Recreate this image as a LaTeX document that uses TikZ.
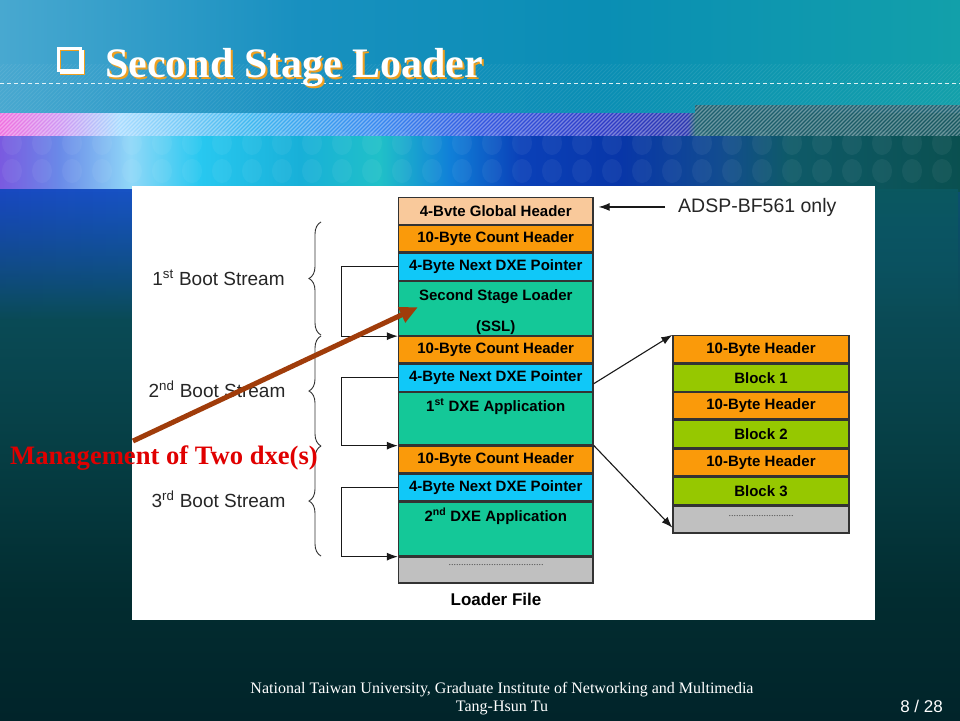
\documentclass[tikz,border=0pt]{standalone}
\usepackage{fontspec}
\setmainfont{Liberation Serif}
\setsansfont{Liberation Sans}
\usetikzlibrary{arrows.meta,decorations.pathreplacing,fadings,calc}

\definecolor{peach}{HTML}{F9C99B}
\definecolor{org}{HTML}{FA9A0A}
\definecolor{cyn}{HTML}{10C8F8}
\definecolor{grn}{HTML}{14C898}
\definecolor{lime}{HTML}{96C800}
\definecolor{gry}{HTML}{C0C0C0}
\definecolor{brd}{HTML}{333333}
\definecolor{brn}{HTML}{A03C0A}
\definecolor{mred}{HTML}{E00000}
\definecolor{ttlorange}{HTML}{F0A020}

% top band
\definecolor{tbA}{HTML}{48A8D0}
\definecolor{tbB}{HTML}{1890C0}
\definecolor{tbC}{HTML}{0A8EB4}
\definecolor{tbD}{HTML}{12A0AA}
\pgfdeclarehorizontalshading{topband}{100bp}{color(0bp)=(tbA); color(25bp)=(tbA); color(40.6bp)=(tbB); color(56.25bp)=(tbC); color(75bp)=(tbD); color(100bp)=(tbD)}
% stripe band
\definecolor{sbA}{HTML}{F070E0}
\definecolor{sbB}{HTML}{D098F4}
\definecolor{sbC}{HTML}{A8DCFF}
\definecolor{sbD}{HTML}{40B8F0}
\definecolor{sbE}{HTML}{3888F0}
\definecolor{sbF}{HTML}{3458E0}
\definecolor{sbG}{HTML}{2E3CC8}
\definecolor{sbH}{HTML}{2C38B0}
\definecolor{sbI}{HTML}{1E6070}
\definecolor{sbJ}{HTML}{185860}
\pgfdeclarehorizontalshading{stripeband}{100bp}{color(0bp)=(sbA); color(25bp)=(sbA); color(28.1bp)=(sbB); color(31.25bp)=(sbC); color(38bp)=(sbD); color(44.8bp)=(sbE); color(50bp)=(sbF); color(56.25bp)=(sbG); color(60.8bp)=(sbH); color(61.2bp)=(sbI); color(75bp)=(sbJ); color(100bp)=(sbJ)}
% circle band
\definecolor{cbA}{HTML}{7A5AE0}
\definecolor{cbB}{HTML}{6A8AE8}
\definecolor{cbC}{HTML}{90D8F8}
\definecolor{cbD}{HTML}{28C8F0}
\definecolor{cbE}{HTML}{18B0D8}
\definecolor{cbF}{HTML}{20C0C8}
\definecolor{cbG}{HTML}{1080D8}
\definecolor{cbH}{HTML}{0A40B8}
\definecolor{cbI}{HTML}{0836A8}
\definecolor{cbJ}{HTML}{124C90}
\definecolor{cbK}{HTML}{0E5A68}
\definecolor{cbL}{HTML}{0A5050}
\pgfdeclarehorizontalshading{circband}{100bp}{color(0bp)=(cbA); color(25bp)=(cbA); color(28.1bp)=(cbB); color(31.8bp)=(cbC); color(35.4bp)=(cbD); color(40.6bp)=(cbE); color(44.8bp)=(cbF); color(48.4bp)=(cbG); color(52.1bp)=(cbH); color(57.3bp)=(cbI); color(62.5bp)=(cbJ); color(66.1bp)=(cbK); color(75bp)=(cbL); color(100bp)=(cbL)}
% fade band
\definecolor{fbA}{HTML}{1848C0}
\definecolor{fbB}{HTML}{1660C8}
\definecolor{fbC}{HTML}{0A3AA8}
\definecolor{fbD}{HTML}{0C4888}
\definecolor{fbE}{HTML}{0A5860}
\pgfdeclarehorizontalshading{fadeband}{100bp}{color(0bp)=(fbA); color(25bp)=(fbA); color(40.6bp)=(fbB); color(50bp)=(fbC); color(61.5bp)=(fbD); color(70.8bp)=(fbE); color(75bp)=(fbE); color(100bp)=(fbE)}
% base vertical
\definecolor{vbA}{HTML}{01242A}
\definecolor{vbB}{HTML}{022C30}
\definecolor{vbC}{HTML}{063E44}
\definecolor{vbD}{HTML}{0A4C58}
\definecolor{vbE}{HTML}{0C4E70}
\pgfdeclareverticalshading{basev}{100bp}{color(0bp)=(vbA); color(25bp)=(vbA); color(36.3bp)=(vbB); color(50.5bp)=(vbC); color(64.6bp)=(vbD); color(75bp)=(vbE); color(100bp)=(vbE)}

\tikzfading[name=fadedown, top color=transparent!0, bottom color=transparent!100]

\tikzset{
  box/.style={draw=brd, line width=1.3pt, inner sep=0pt, text=black,
    font=\sffamily\bfseries\fontsize{15}{17}\selectfont},
  mainbox/.style={box, minimum width=194.5pt},
  sidebox/.style={box, minimum width=176pt},
  inlabel/.style={anchor=base, inner sep=0pt, font=\sffamily\bfseries\fontsize{15}{17}\selectfont},
  arr/.style={draw=black!90, line width=1.1pt, -{Latex[length=11pt,width=8pt]}},
  brc/.style={decorate, decoration={brace, amplitude=12pt}, draw=black!80, line width=0.9pt},
  bs/.style={font=\sffamily\fontsize{19}{20}\selectfont, text=black!85, anchor=base},
  dotsl/.style={font=\fontsize{10}{10}\selectfont, text=black!70, inner sep=0pt},
}

\begin{document}
\begin{tikzpicture}[x=1pt,y=-1pt]
\useasboundingbox (0,0) rectangle (960,720);

% ---------- background ----------
\shade[shading=basev] (0,190) rectangle (960,720);
\shade[shading=topband] (0,0) rectangle (960,114);
\begin{scope}
  \clip (0,64) rectangle (960,113);
  \foreach \sx in {-60,-56,...,960} \draw[white, opacity=0.08, line width=1pt] (\sx,116) -- ++(55,-55);
\end{scope}
\shade[shading=stripeband] (0,113) rectangle (960,136);
\fill[sbI] (695,105) rectangle (960,113);
\begin{scope}
  \clip (0,113) rectangle (960,136) (695,105) rectangle (960,113);
  \foreach \sx in {-40,-36,...,960} \draw[white, opacity=0.35, line width=1.1pt] (\sx,140) -- ++(36,-36);
\end{scope}
\shade[shading=circband] (0,136) rectangle (960,191);
\shade[shading=fadeband, path fading=fadedown] (0,190) rectangle (960,320);
\foreach \cx in {12,42,...,960} {
  \fill[white, opacity=0.05] (\cx,143) ellipse [x radius=10pt, y radius=12pt];
  \fill[white, opacity=0.05] (\cx,171) ellipse [x radius=10pt, y radius=12pt];
}
\draw[white, opacity=0.85, line width=0.9pt, dash pattern=on 4pt off 3pt] (0,83) -- (960,83);

% ---------- title ----------
\draw[ttlorange, line width=1.5pt] (60.5,50.5) rectangle (84.5,74.5);
\draw[white, line width=2.5pt] (58.5,48.5) rectangle (80.5,70.5);
\fill[white] (80,50) rectangle (84,74);
\fill[white] (60,70) rectangle (84,74);
\node[anchor=base west, inner sep=0pt, text=white, font=\bfseries\fontsize{42}{42}\selectfont] (title) at (105,77)
  {\rlap{\hspace{2pt}\raisebox{-2pt}{\textcolor{ttlorange}{Second Stage Loader}}}Second Stage Loader};

% ---------- panel ----------
\fill[white] (132,186) rectangle (875,620);

% main column
\node[mainbox, fill=peach, minimum height=27.5pt] (g)   at (495.75,211.25) {4-Bvte Global Header};
\node[mainbox, fill=org,   minimum height=27pt]   (c1)  at (495.75,238.5) {10-Byte Count Header};
\node[mainbox, fill=cyn,   minimum height=27.5pt] (p1)  at (495.75,266.75) {4-Byte Next DXE Pointer};
\node[mainbox, fill=grn,   minimum height=54.5pt] (ssl) at (495.75,308.25) {};
\node[inlabel] (sslt1) at (495.75,300) {Second Stage Loader};
\node[inlabel] (sslt2) at (495.75,331) {(SSL)};
\node[mainbox, fill=org,   minimum height=27pt]   (c2)  at (495.75,349.5) {10-Byte Count Header};
\node[mainbox, fill=cyn,   minimum height=27.5pt] (p2)  at (495.75,377.75) {4-Byte Next DXE Pointer};
\node[mainbox, fill=grn,   minimum height=53pt]   (a1)  at (495.75,418.5) {};
\node[inlabel] (a1t) at (495.75,411) {1\textsuperscript{st} DXE Application};
\node[mainbox, fill=org,   minimum height=27pt]   (c3)  at (495.75,459.5) {10-Byte Count Header};
\node[mainbox, fill=cyn,   minimum height=27pt]   (p3)  at (495.75,487.5) {4-Byte Next DXE Pointer};
\node[mainbox, fill=grn,   minimum height=54pt]   (a2)  at (495.75,529) {};
\node[inlabel] (a2t) at (495.75,521) {2\textsuperscript{nd} DXE Application};
\node[mainbox, fill=gry,   minimum height=26pt]   (d1)  at (495.75,570) {};
\node[dotsl] (d1t) at (496,565) {......................................};
\node[anchor=base, font=\sffamily\bfseries\fontsize{17}{17}\selectfont] (lf) at (496,605) {Loader File};

% side column
\node[sidebox, fill=org,  minimum height=27.5pt] (h1) at (761,349.25) {10-Byte Header};
\node[sidebox, fill=lime, minimum height=28pt]   (b1) at (761,378) {Block 1};
\node[sidebox, fill=org,  minimum height=26.5pt] (h2) at (761,405.75) {10-Byte Header};
\node[sidebox, fill=lime, minimum height=28pt]   (b2) at (761,434) {Block 2};
\node[sidebox, fill=org,  minimum height=27pt]   (h3) at (761,462.5) {10-Byte Header};
\node[sidebox, fill=lime, minimum height=28pt]   (b3) at (761,491) {Block 3};
\node[sidebox, fill=gry,  minimum height=27pt]   (d2) at (761,519.5) {};
\node[dotsl] (d2t) at (761,516) {..........................};

% ADSP note
\node[anchor=base west, inner sep=0pt, font=\sffamily\fontsize{19.5}{20}\selectfont, text=black!85] (adsp) at (678,212) {ADSP-BF561 only};
\draw[arr] ($(adsp.west)+(-13,0)$) -- ($(g.east |- adsp.west)+(5,0)$);

% loops
\draw[arr] (p1.west) -- ++(-56,0) |- (ssl.south west);
\draw[arr] (p2.west) -- ++(-56,0) |- (a1.south west);
\draw[arr] (p3.west) -- ++(-56,0) |- (a2.south west);

% to side column
\draw[arr] ($(p2.east)+(0,6)$) -- (h1.north west);
\draw[arr] (c3.north east) -- ($(d2.south west)+(0,-6)$);

% braces and labels
\draw[brc] (321,335) -- (321,222);
\draw[brc] (321,446) -- (321,336);
\draw[brc] (321,556) -- (321,446);
\node[bs] (bs1) at (218.5,285) {1\textsuperscript{st} Boot Stream};
\node[bs] (bs2) at (217,397) {2\textsuperscript{nd} Boot Stream};
\node[bs] (bs3) at (218.5,507) {3\textsuperscript{rd} Boot Stream};

% management arrow
\coordinate (mstart) at (133,441);
\draw[brn, line width=5pt, -{Triangle[length=18pt,width=16pt]}] (mstart) -- ($(ssl.west)+(20,-1)$);
\node[anchor=base west, inner sep=0pt, text=mred, font=\bfseries\fontsize{26.6}{27}\selectfont] (mg) at (10,464) {Management of Two dxe(s)};

% ---------- footer ----------
\node[anchor=base, inner sep=0pt, text=white, font=\fontsize{16}{16}\selectfont] (f1) at (502,693) {National Taiwan University, Graduate Institute of Networking and Multimedia};
\node[anchor=base, inner sep=0pt, text=white, font=\fontsize{16}{16}\selectfont] (f2) at (502,711) {Tang-Hsun Tu};
\node[anchor=base east, inner sep=0pt, text=white, font=\sffamily\fontsize{17}{17}\selectfont] (pg) at (943,712) {8 / 28};
\end{tikzpicture}
\end{document}
